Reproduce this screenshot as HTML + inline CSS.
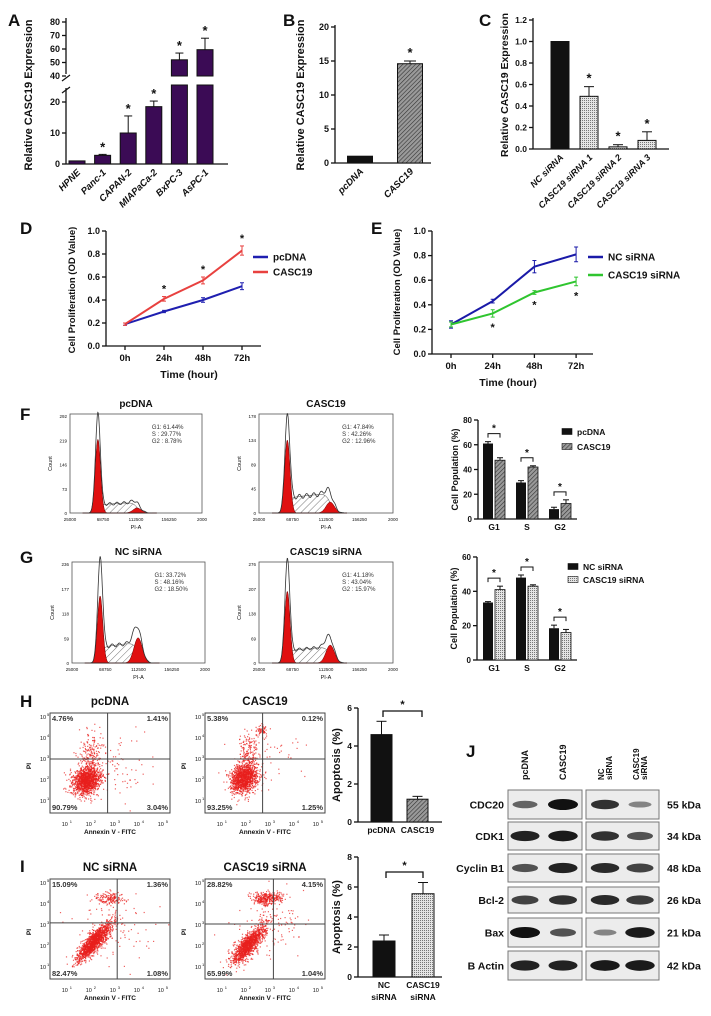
<!DOCTYPE html>
<html><head><meta charset="utf-8"><style>
html,body{margin:0;padding:0;background:#fff;}
svg{display:block;font-family:"Liberation Sans",Arial,sans-serif;}
</style></head><body>
<svg id="fig" width="711" height="1016" viewBox="0 0 711 1016" xmlns="http://www.w3.org/2000/svg">
<defs>
<pattern id="hatch" patternUnits="userSpaceOnUse" width="3" height="3" patternTransform="rotate(45)"><rect width="3" height="3" fill="#9a9a9a"/><line x1="0" y1="0" x2="0" y2="3" stroke="#333" stroke-width="1.2"/></pattern>
<pattern id="histhatch" patternUnits="userSpaceOnUse" width="5" height="5" patternTransform="rotate(45)"><rect width="5" height="5" fill="#fff"/><line x1="0" y1="0" x2="0" y2="5" stroke="#555" stroke-width="0.8"/></pattern>
<pattern id="dots" patternUnits="userSpaceOnUse" width="2" height="2"><rect width="2" height="2" fill="#e4e4e4"/><rect width="1" height="1" fill="#777"/></pattern>
</defs>
</svg>
<script>
// ---------- DATA ----------
const catsA = ['HPNE','Panc-1','CAPAN-2','MIAPaCa-2','BxPC-3','AsPC-1'];
const valsA = [1, 2.8, 10, 18.5, 52, 59.5];
const errA = [0, 0.3, 5.5, 1.8, 5, 8.5];
const ticksA = [0,10,20,40,50,60,70,80];
const catsB = ['pcDNA','CASC19'];
const valsB = [1, 14.6];
const errB = [0, 0.4];
const ticksB = [0,5,10,15,20];
const catsC = ['NC siRNA','CASC19 siRNA 1','CASC19 siRNA 2','CASC19 siRNA 3'];
const valsC = [1, 0.49, 0.02, 0.08];
const errC = [0, 0.09, 0.02, 0.08];
const ticksC = [0,0.2,0.4,0.6,0.8,1.0,1.2];
const timeLabels = ['0h','24h','48h','72h'];
const dPc = [0.19, 0.30, 0.40, 0.52];
const dPcErr = [0.01, 0.01, 0.02, 0.03];
const dCa = [0.19, 0.41, 0.57, 0.83];
const dCaErr = [0.01, 0.02, 0.03, 0.04];
const eNc = [0.24, 0.43, 0.71, 0.81];
const eNcErr = [0.03, 0.015, 0.05, 0.06];
const eCa = [0.24, 0.33, 0.50, 0.59];
const eCaErr = [0.02, 0.03, 0.015, 0.035];
const ticksLine = [0,0.2,0.4,0.6,0.8,1.0];
const phases = ['G1','S','G2'];
const fPc = [61, 29.5, 8];
const fPcErr = [1.5, 1.5, 1.5];
const fCa = [47.5, 42, 12.5];
const fCaErr = [2, 1, 3];
const gNc = [33.5, 48, 18.5];
const gNcErr = [0.5, 1.5, 1.8];
const gCa = [41, 43, 16];
const gCaErr = [2, 0.8, 1.8];
const hCats = ['pcDNA','CASC19'];
const hVals = [4.6, 1.2];
const hErr = [0.7, 0.15];
const iVals = [2.4, 5.55];
const iErr = [0.4, 0.75];
const histTitles = ['pcDNA','CASC19','NC siRNA','CASC19 siRNA'];
const histYticks = [[0,73,146,219,292],[0,45,89,134,178],[0,59,118,177,236],[0,69,138,207,276]];
const histG1Red = [222,134,160,200];
const histG1Black = [292,170,236,276];
const histG2Mean = [114000,118000,112000,118000];
const histG2H = [15,20,60,50];
const histSH = [25,28,38,35];
const histStats = [['G1: 61.44%','S :  29.77%','G2 :  8.78%'],['G1: 47.84%','S :  42.26%','G2 : 12.96%'],['G1: 33.72%','S :  48.16%','G2 : 18.50%'],['G1: 41.18%','S :  43.04%','G2 : 15.97%']];
const scatTitles = ['pcDNA','CASC19','NC siRNA','CASC19 siRNA'];
const scatPct = [['4.76%','1.41%','90.79%','3.04%'],['5.38%','0.12%','93.25%','1.25%'],['15.09%','1.36%','82.47%','1.08%'],['28.82%','4.15%','65.99%','1.04%']];
const blotRows = ['CDC20','CDK1','Cyclin B1','Bcl-2','Bax','B Actin'];
const blotKda = ['55 kDa','34 kDa','48 kDa','26 kDa','21 kDa','42 kDa'];
const blotLanes = ['pcDNA','CASC19','NC siRNA','CASC19 siRNA'];
const blotIntensity = [[0.5,1,0.8,0.3],[0.9,0.95,0.8,0.6],[0.6,0.9,0.85,0.7],[0.7,0.8,0.85,0.75],[1,0.6,0.3,0.95],[0.9,0.9,0.95,0.95]];

// ---------- HELPERS ----------
const NS='http://www.w3.org/2000/svg';
const svg=document.getElementById('fig');
function mk(tag,attrs,parent){const e=document.createElementNS(NS,tag);for(const k in attrs)e.setAttribute(k,attrs[k]);(parent||svg).appendChild(e);return e;}
function nm(e,n){
  
  
  return e;}
function txt(str,x,y,attrs,parent){const t=mk('text',Object.assign({x:x,y:y,'font-weight':'bold','font-size':9,fill:'#111'},attrs||{}),parent);t.textContent=str;return t;}
function line(x1,y1,x2,y2,parent,sw,col){return mk('line',{x1,y1,x2,y2,stroke:col||'#111','stroke-width':sw||1.3},parent);}
function grp(n){const g=mk('g',{});return nm(g,n);}
function yAxis(g,x,ticks,sc,top,bot,fs,fmt){
  nm(line(x,top,x,bot,g),'y-axis-line');
  ticks.forEach(t=>{const y=sc(t);nm(line(x-4,y,x,y,g),'y-tick');
    nm(txt(fmt?fmt(t):String(t),x-6,y+3,{'text-anchor':'end','font-size':fs||9},g),'y-tick-label');});
}
function errBar(g,x,y1,y2,w){nm(line(x,y1,x,y2,g,1),'error-bar');nm(line(x-w,y2,x+w,y2,g,1),'error-cap');}
function star(g,x,y,fs){return nm(txt('*',x,y,{'text-anchor':'middle','font-size':fs||13},g),'significance-star');}
function panelLabel(s,x,y){return nm(txt(s,x,y,{'font-size':17}),'panel-label-'+s.toLowerCase());}
function ytitle(g,s,x,y,fs){return nm(txt(s,x,y,{'text-anchor':'middle','font-size':fs||10.5,transform:`rotate(-90 ${x} ${y})`},g),'y-axis-title');}

// ---------- PANEL A ----------
panelLabel('A',8,26);
(function(){
  const g=grp('panel-a-chart');
  const ax=66, end=228;
  const sc=v=> v<=26 ? 164-v*3.1 : 76-(v-40)*1.35;
  nm(line(ax,18,ax,74,g),'y-axis-upper');
  nm(line(ax,88,ax,164,g),'y-axis-lower');
  nm(line(ax-4,81,ax+4,75,g,1.2),'axis-break-mark');
  nm(line(ax-4,93,ax+4,87,g,1.2),'axis-break-mark');
  ticksA.forEach(t=>{const y=sc(t);nm(line(ax-4,y,ax,y,g),'y-tick');nm(txt(String(t),ax-6,y+3,{'text-anchor':'end'},g),'y-tick-label');});
  nm(line(ax,164,end,164,g),'x-axis-line');
  ytitle(g,'Relative CASC19 Expression',32,95,11);
  catsA.forEach((c,i)=>{
    const cx=77+i*25.6, w=16, v=valsA[i];
    if(v>40){
      const r1=mk('rect',{x:cx-w/2,y:85,width:w,height:79,fill:'#3b0b55',stroke:'#111','stroke-width':1},g);
      nm(r1,'bar-'+c.toLowerCase()+'-lower');
      const r2=mk('rect',{x:cx-w/2,y:sc(v),width:w,height:76-sc(v),fill:'#3b0b55',stroke:'#111','stroke-width':1},g);
      nm(r2,'bar-'+c.toLowerCase()+'-upper');
    } else {
      const r=mk('rect',{x:cx-w/2,y:sc(v),width:w,height:164-sc(v),fill:'#3b0b55',stroke:'#111','stroke-width':1},g);
      nm(r,'bar-'+c.toLowerCase());
    }
    if(errA[i]>0) errBar(g,cx,sc(v),sc(v+errA[i]),4);
    if(i>0) star(g,cx,sc(v+errA[i])-3);
    const t=txt(c,cx+4,173,{'text-anchor':'end','font-style':'italic','font-size':9.5,transform:`rotate(-45 ${cx+4} 173)`},g);
    nm(t,'x-tick-label');
  });
})();

// ---------- PANEL B ----------
panelLabel('B',283,26);
(function(){
  const g=grp('panel-b-chart');
  const ax=335, sc=v=>163-v*6.8;
  yAxis(g,ax,ticksB,sc,25,163);
  nm(line(ax,163,431,163,g),'x-axis-line');
  ytitle(g,'Relative CASC19 Expression',304,95,11);
  catsB.forEach((c,i)=>{
    const cx=[360,410][i], w=25;
    const r=mk('rect',{x:cx-w/2,y:sc(valsB[i]),width:w,height:163-sc(valsB[i]),fill:i?'url(#hatch)':'#111',stroke:'#111','stroke-width':1},g);
    nm(r,'bar-'+c.toLowerCase());
    if(errB[i]>0){errBar(g,cx,sc(valsB[i]),sc(valsB[i]+errB[i]),6);star(g,cx,sc(valsB[i]+errB[i])-4);}
    nm(txt(c,cx+4,172,{'text-anchor':'end','font-style':'italic','font-size':9.5,transform:`rotate(-45 ${cx+4} 172)`},g),'x-tick-label');
  });
})();

// ---------- PANEL C ----------
panelLabel('C',479,26);
(function(){
  const g=grp('panel-c-chart');
  const ax=533, sc=v=>149-v*107.5;
  yAxis(g,ax,ticksC,sc,18,149,8.5,t=>t.toFixed(1));
  nm(line(ax,149,669,149,g),'x-axis-line');
  ytitle(g,'Relative CASC19 Expression',508,85,10.5);
  catsC.forEach((c,i)=>{
    const cx=560+i*29, w=18;
    const r=mk('rect',{x:cx-w/2,y:sc(valsC[i]),width:w,height:149-sc(valsC[i]),fill:i?'url(#dots)':'#111',stroke:'#111','stroke-width':1},g);
    nm(r,'bar-'+c.toLowerCase().replace(/ /g,'-'));
    if(errC[i]>0){errBar(g,cx,sc(valsC[i]),sc(valsC[i]+errC[i]),5);star(g,cx,sc(valsC[i]+errC[i])-4);}
    nm(txt(c,cx+4,158,{'text-anchor':'end','font-style':'italic','font-size':9,transform:`rotate(-45 ${cx+4} 158)`},g),'x-tick-label');
  });
})();

// ---------- LINE CHARTS ----------
function lineChart(name,ax,end,y0,yk,x0,dx,series,errs,colors,names,legX,legY,starPos,starOff){
  const g=grp(name);
  const sc=v=>y0-v*yk, xs=i=>x0+i*dx;
  yAxis(g,ax,ticksLine,sc,sc(1),y0,9,t=>t.toFixed(1));
  nm(line(ax,y0,end,y0,g),'x-axis-line');
  timeLabels.forEach((t,i)=>{nm(line(xs(i),y0,xs(i),y0+4,g),'x-tick');nm(txt(t,xs(i),y0+15,{'text-anchor':'middle','font-size':9.5},g),'x-tick-label');});
  series.forEach((s,k)=>{
    const p=mk('polyline',{points:s.map((v,i)=>xs(i)+','+sc(v)).join(' '),fill:'none',stroke:colors[k],'stroke-width':2},g);
    nm(p,'line-'+names[k].toLowerCase().replace(/ /g,'-'));
    s.forEach((v,i)=>{const e1=line(xs(i),sc(v-errs[k][i]),xs(i),sc(v+errs[k][i]),g,1,colors[k]);nm(e1,'error-bar');
      nm(line(xs(i)-2,sc(v+errs[k][i]),xs(i)+2,sc(v+errs[k][i]),g,1,colors[k]),'error-cap');
      nm(line(xs(i)-2,sc(v-errs[k][i]),xs(i)+2,sc(v-errs[k][i]),g,1,colors[k]),'error-cap');});
    const l=line(legX,legY[k],legX+15,legY[k],g,2.5,colors[k]);nm(l,'legend-swatch');
    nm(txt(names[k],legX+20,legY[k]+3.5,{'font-size':10},g),'legend-label');
  });
  const s=series[starPos];
  for(let i=1;i<4;i++){const v=starOff<0?s[i]+errs[starPos][i]:s[i]-errs[starPos][i];star(g,xs(i),sc(v)+(starOff<0?-4:starOff),11);}
  return {g,sc};
}
panelLabel('D',20,234);
(function(){
  const r=lineChart('panel-d-chart',106,261,346,115,125,39,[dPc,dCa],[dPcErr,dCaErr],['#1f1fb0','#e8413f'],['pcDNA','CASC19'],253,[257,272],1,-1);
  ytitle(r.g,'Cell Proliferation (OD Value)',75,290,9.5);
  nm(txt('Time (hour)',189,378,{'text-anchor':'middle','font-size':10.5},r.g),'x-axis-title');
})();
panelLabel('E',371,234);
(function(){
  const r=lineChart('panel-e-chart',432,593,354,123,451,41.7,[eNc,eCa],[eNcErr,eCaErr],['#1a1aa8','#2fc52f'],['NC siRNA','CASC19 siRNA'],588,[257,275],1,14);
  ytitle(r.g,'Cell Proliferation (OD Value)',400,292,9.5);
  nm(txt('Time (hour)',508,386,{'text-anchor':'middle','font-size':10.5},r.g),'x-axis-title');
})();

// ---------- HISTOGRAMS ----------
const histBoxes=[[70,414,202,513],[259,414,393,513],[72,562,205,663],[259,562,393,663]];
function gauss(x,m,s){return Math.exp(-0.5*((x-m)/s)*((x-m)/s));}
function sig(z){return 1/(1+Math.exp(-z));}
histBoxes.forEach((b,k)=>{
  const g=grp('histogram-'+histTitles[k].toLowerCase().replace(/ /g,'-'));
  const [x0,y0,x1,y1]=b, ymax=histYticks[k][4];
  const xs=v=>x0+(v-25000)/175000*(x1-x0), ys=v=>y1-v/ymax*(y1-y0-2);
  nm(mk('rect',{x:x0,y:y0,width:x1-x0,height:y1-y0,fill:'#fff',stroke:'#555','stroke-width':0.8},g),'plot-frame');
  nm(txt(histTitles[k],(x0+x1)/2,y0-7,{'text-anchor':'middle','font-size':10},g),'histogram-title');
  histYticks[k].forEach(t=>{nm(txt(String(t),x0-3,ys(t)+2,{'text-anchor':'end','font-size':4.5,'font-weight':'normal'},g),'y-tick-label');});
  ['25000','68750','112500','156250','2000'].forEach((t,i)=>{nm(txt(t,x0+i*(x1-x0)/4,y1+8,{'text-anchor':'middle','font-size':4.5,'font-weight':'normal'},g),'x-tick-label');});
  nm(txt('PI-A',(x0+x1)/2,y1+16,{'text-anchor':'middle','font-size':5.5,'font-weight':'normal'},g),'x-axis-title');
  nm(txt('Count',x0-18,(y0+y1)/2,{'text-anchor':'middle','font-size':5.5,'font-weight':'normal',transform:`rotate(-90 ${x0-18} ${(y0+y1)/2})`},g),'y-axis-title');
  const m1=62000,s1=3500,m2=histG2Mean[k],s2=5500;
  let sP=[],g1P=[],g2P=[],out=[];
  for(let v=42000;v<=140000;v+=600){
    const sv=histSH[k]*sig((v-m1)/2500)*sig((m2-v)/3000)*(1+0.3*(v-m1)/(m2-m1));
    const a=histG1Red[k]*gauss(v,m1,s1), c=histG2H[k]*gauss(v,m2,s2);
    sP.push([v,sv]);g1P.push([v,a]);g2P.push([v,c]);
    out.push([v,histG1Black[k]*gauss(v,m1,s1*0.9)+c+sv+4*Math.sin(v/1500)*sig((v-m1)/3000)*sig((m2+8000-v)/3000)+6*gauss(v,m1-6000,1500)]);
  }
  const poly=arr=>'M'+xs(arr[0][0])+','+y1+' '+arr.map(p=>'L'+xs(p[0]).toFixed(1)+','+ys(p[1]).toFixed(1)).join(' ')+' L'+xs(arr[arr.length-1][0])+','+y1+'Z';
  nm(mk('path',{d:poly(sP),fill:'url(#histhatch)',stroke:'#333','stroke-width':0.5},g),'s-phase-area');
  nm(mk('path',{d:poly(g1P),fill:'#e01010',stroke:'#600','stroke-width':0.5},g),'g1-peak');
  nm(mk('path',{d:poly(g2P),fill:'#e01010',stroke:'#600','stroke-width':0.5},g),'g2-peak');
  nm(mk('path',{d:poly(out),fill:'none',stroke:'#333','stroke-width':0.8},g),'histogram-outline');
  histStats[k].forEach((s,i)=>{nm(txt(s,x0+(x1-x0)*0.62,y0+15+i*7,{'font-size':6,'font-weight':'normal',fill:'#333'},g),'phase-stat');});
});
panelLabel('F',20,420);
panelLabel('G',20,563);

// ---------- CELL CYCLE BAR CHARTS ----------
function cycleChart(name,ax,y0,yk,ticks,a,ae,b,be,fillB,legNames,legX,legY){
  const g=grp(name);
  const sc=v=>y0-v*yk;
  yAxis(g,ax,ticks,sc,sc(ticks[ticks.length-1]),y0,8);
  nm(line(ax,y0,577,y0,g),'x-axis-line');
  ytitle(g,'Cell Population (%)',ax-20,(y0+sc(ticks[ticks.length-1]))/2,9);
  phases.forEach((p,i)=>{
    const xa=483+i*33, xb=495+i*33, w=10;
    nm(mk('rect',{x:xa,y:sc(a[i]),width:w,height:y0-sc(a[i]),fill:'#111'},g),'bar-'+legNames[0].toLowerCase().replace(/ /g,'-')+'-'+p);
    nm(mk('rect',{x:xb,y:sc(b[i]),width:w,height:y0-sc(b[i]),fill:fillB,stroke:'#111','stroke-width':0.8},g),'bar-'+legNames[1].toLowerCase().replace(/ /g,'-')+'-'+p);
    errBar(g,xa+w/2,sc(a[i]),sc(a[i]+ae[i]),3);errBar(g,xb+w/2,sc(b[i]),sc(b[i]+be[i]),3);
    const top=Math.min(sc(a[i]+ae[i]),sc(b[i]+be[i]))-8;
    const br=mk('polyline',{points:`${xa+w/2},${top+4} ${xa+w/2},${top} ${xb+w/2},${top} ${xb+w/2},${top+4}`,fill:'none',stroke:'#111','stroke-width':1},g);
    nm(br,'significance-bracket');
    star(g,(xa+xb+w)/2,top-2,10);
    nm(txt(p,(xa+xb+w)/2,y0+11,{'text-anchor':'middle','font-size':8.5},g),'x-tick-label');
  });
  legNames.forEach((n,k)=>{
    nm(mk('rect',{x:legX,y:legY[k]-3.5,width:10,height:6,fill:k?fillB:'#111',stroke:'#111','stroke-width':0.6},g),'legend-swatch');
    nm(txt(n,legX+15,legY[k]+3,{'font-size':8.5},g),'legend-label');
  });
}
cycleChart('panel-f-bar-chart',478,519,1.2375,[0,20,40,60,80],fPc,fPcErr,fCa,fCaErr,'url(#hatch)',['pcDNA','CASC19'],562,[432,447]);
cycleChart('panel-g-bar-chart',477,660,1.717,[0,20,40,60],gNc,gNcErr,gCa,gCaErr,'url(#dots)',['NC siRNA','CASC19 siRNA'],568,[567,580]);

// ---------- SCATTER PLOTS ----------
let seed=12345;function rnd(){seed|=0;seed=seed+0x6D2B79F5|0;let t=Math.imul(seed^seed>>>15,1|seed);t=t+Math.imul(t^t>>>7,61|t)^t;return((t^t>>>14)>>>0)/4294967296;}
function gn(){let u=0,v=0;while(u===0)u=rnd();v=rnd();return Math.sqrt(-2*Math.log(u))*Math.cos(2*Math.PI*v);}
const scatBoxes=[[50,713,170,813],[205,713,325,813],[50,879,170,979],[205,879,325,979]];
const scatQx=[2.7,2.7,3.1,3.15], scatQy=[3.0,3.0,3.1,3.05];
const clusters=[
 [[1.8,2.0,0.3,0.35,0.2,1300],[2.0,3.2,0.25,0.6,0,200],[3,2.6,0.8,0.8,0,80]],
 [[1.9,2.1,0.28,0.35,0.2,1300],[2.1,3.3,0.2,0.5,0,150],[2.6,4.4,0.13,0.13,0,60],[3,3,0.8,0.8,0,60]],
 [[2.1,2.2,0.35,0.45,0.85,1400],[2.8,4.3,0.3,0.15,0,150],[3,3,0.8,0.8,0,110]],
 [[2.1,2.1,0.35,0.45,0.8,1200],[2.9,4.3,0.3,0.15,0,330],[3,3,0.8,0.8,0,120]]];
scatBoxes.forEach((b,k)=>{
  const g=grp('scatter-'+scatTitles[k].toLowerCase().replace(/ /g,'-'));
  const [x0,y0,x1,y1]=b;
  const xs=d=>x0+(d-0.3)*24, ys=d=>y1-12-(d-1)*21;
  nm(mk('rect',{x:x0,y:y0,width:x1-x0,height:y1-y0,fill:'#fff',stroke:'#444','stroke-width':1},g),'plot-frame');
  nm(txt(scatTitles[k],(x0+x1)/2,y0-8,{'text-anchor':'middle','font-size':11.5},g),'scatter-title');
  const dg=mk('g',{fill:'#e8201c','fill-opacity':0.7},g);nm(dg,'event-dots');
  clusters[k].forEach(c=>{for(let n=0;n<c[5];n++){const a=gn(),bb=gn();const dx=c[0]+c[2]*a, dy=c[1]+c[3]*(c[4]*a+Math.sqrt(1-c[4]*c[4])*bb);
    const px=xs(dx),py=ys(dy); if(px<x0+1||px>x1-1||py<y0+1||py>y1-1)continue;
    const d=mk('rect',{x:px.toFixed(1),y:py.toFixed(1),width:1.2,height:1.2},dg);}});
  nm(line(xs(scatQx[k]),y0,xs(scatQx[k]),y1,g,1,'#444'),'quadrant-line-vertical');
  nm(line(x0,ys(scatQy[k]),x1,ys(scatQy[k]),g,1,'#444'),'quadrant-line-horizontal');
  const p=scatPct[k];
  nm(txt(p[0],x0+2,y0+8,{'font-size':7.5,fill:'#333'},g),'quadrant-percent-tl');
  nm(txt(p[1],x1-2,y0+8,{'font-size':7.5,fill:'#333','text-anchor':'end'},g),'quadrant-percent-tr');
  nm(txt(p[2],x0+2,y1-3,{'font-size':7.5,fill:'#333'},g),'quadrant-percent-bl');
  nm(txt(p[3],x1-2,y1-3,{'font-size':7.5,fill:'#333','text-anchor':'end'},g),'quadrant-percent-br');
  for(let d=1;d<=5;d++){
    nm(txt('10',xs(d)-2,y1+13,{'font-size':5.5,'font-weight':'normal','text-anchor':'middle'},g),'x-tick-label');
    nm(txt(String(d),xs(d)+3,y1+10,{'font-size':4,'font-weight':'normal'},g),'x-tick-exponent');
    nm(txt('10',x0-7,ys(d)+2,{'font-size':5.5,'font-weight':'normal','text-anchor':'middle'},g),'y-tick-label');
    nm(txt(String(d),x0-3,ys(d)-1,{'font-size':4,'font-weight':'normal'},g),'y-tick-exponent');
  }
  nm(txt('Annexin V - FITC',(x0+x1)/2,y1+21,{'text-anchor':'middle','font-size':6.5},g),'x-axis-title');
  nm(txt('PI',x0-19,(y0+y1)/2+3,{'text-anchor':'middle','font-size':6.5,transform:`rotate(-90 ${x0-19} ${(y0+y1)/2+3})`},g),'y-axis-title');
});
panelLabel('H',20,707);
panelLabel('I',20,872);

// ---------- APOPTOSIS BAR CHARTS ----------
function apopChart(name,ax,y0,yk,ticks,vals,errs,xs,w,fills,labels,br){
  const g=grp(name);
  const sc=v=>y0-v*yk;
  yAxis(g,ax,ticks,sc,sc(ticks[ticks.length-1]),y0,8.5);
  nm(line(ax,y0,442,y0,g),'x-axis-line');
  ytitle(g,'Apoptosis (%)',340,(y0+sc(ticks[ticks.length-1]))/2,11);
  vals.forEach((v,i)=>{
    nm(mk('rect',{x:xs[i],y:sc(v),width:w,height:y0-sc(v),fill:fills[i],stroke:'#111','stroke-width':1},g),'bar-'+hCats[i].toLowerCase());
    errBar(g,xs[i]+w/2,sc(v),sc(v+errs[i]),5);
    labels[i].forEach((l,j)=>nm(txt(l,xs[i]+w/2,y0+11+j*12,{'text-anchor':'middle','font-size':8.5},g),'x-tick-label'));
  });
  const b=mk('polyline',{points:`${br[0]},${br[2]+6} ${br[0]},${br[2]} ${br[1]},${br[2]} ${br[1]},${br[2]+6}`,fill:'none',stroke:'#111','stroke-width':1.3},g);
  nm(b,'significance-bracket');
  star(g,(br[0]+br[1])/2,br[2]-3,11);
}
apopChart('panel-h-bar-chart',358,822,19,[0,2,4,6],hVals,hErr,[371,407],21,['#111','url(#hatch)'],[['pcDNA'],['CASC19']],[383,422,711]);
apopChart('panel-i-bar-chart',358,977,15,[0,2,4,6,8],iVals,iErr,[373,412],22,['#111','url(#dots)'],[['NC','siRNA'],['CASC19','siRNA']],[386,423,872]);

// ---------- WESTERN BLOT ----------
panelLabel('J',466,757);
(function(){
  const g=grp('panel-j-western-blot');
  const laneX=[525,563,605,640];
  const colLab=[['pcDNA'],['CASC19'],['NC','siRNA'],['CASC19','siRNA']];
  colLab.forEach((ls,i)=>{ls.forEach((l,j)=>{const x=laneX[i]+(ls.length>1?(j?4:-4):0);
    nm(txt(l,x+3,780,{'font-size':ls.length>1?8:9,transform:`rotate(-90 ${x+3} 780)`},g),'lane-label');});});
  const rowY=[[790,819],[822,850],[854,882],[887,913],[918,947],[951,980]];
  blotRows.forEach((r,k)=>{
    const [t,b]=rowY[k], cy=(t+b)/2;
    nm(mk('rect',{x:508,y:t,width:74,height:b-t,fill:'#ececec',stroke:'#777','stroke-width':1},g),'blot-frame-left');
    nm(mk('rect',{x:586,y:t,width:73,height:b-t,fill:'#ececec',stroke:'#777','stroke-width':1},g),'blot-frame-right');
    blotIntensity[k].forEach((v,i)=>{
      const e=mk('ellipse',{cx:laneX[i],cy:cy,rx:10+v*5,ry:2+v*3.5,fill:'#111','fill-opacity':0.25+v*0.75},g);
      nm(e,'band-'+r.toLowerCase().replace(/ /g,'-')+'-lane-'+(i+1));
    });
    nm(txt(r,504,cy+4,{'text-anchor':'end','font-size':10.5},g),'protein-label');
    nm(txt(blotKda[k],667,cy+4,{'font-size':10.5},g),'molecular-weight-label');
  });
})();
</script>
</body></html>
